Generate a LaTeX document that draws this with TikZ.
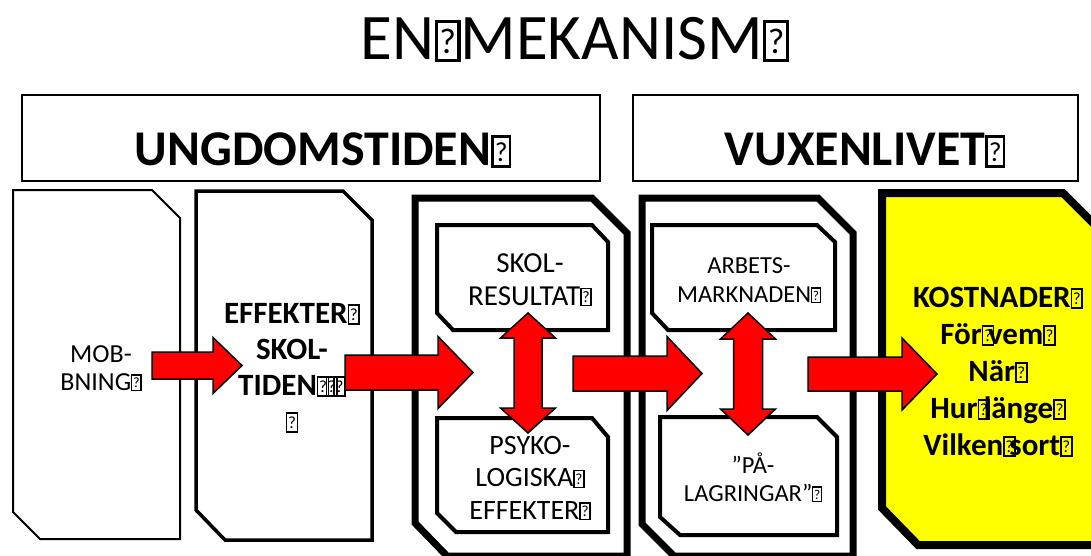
\documentclass[tikz,border=0pt]{standalone}
\usepackage{fontspec}
\setmainfont{Carlito}
\usepackage{graphicx}
\definecolor{costyellow}{RGB}{255,255,0}
\definecolor{arrowred}{RGB}{255,0,0}
\newcommand\qb{{\setlength\fboxsep{0pt}\setlength\fboxrule{0.05em}\fbox{\makebox[0.3em]{\rule{0pt}{0.55em}\raisebox{0.08em}{\scalebox{0.55}{\mdseries ?}}}}}}
\newcommand\ts{\rule{0pt}{1em}}
\newcommand\fsz[2]{\fontsize{#1}{#2}\selectfont}
\tikzset{
  hdrbox/.style={draw=black, line width=2pt, fill=white},
  thinbox/.style={draw=black, line width=2pt, fill=white, line join=miter},
  medbox/.style={draw=black, line width=3.5pt, fill=white, line join=miter},
  outerbox/.style={draw=black, line width=7pt, fill=white, line join=miter},
  innerbox/.style={draw=black, line width=4pt, fill=white, line join=miter},
  costbox/.style={draw=black, line width=8pt, fill=costyellow, line join=miter},
  blk/.style={draw=black, line width=1.5pt, fill=arrowred, line join=miter},
  lbl/.style={align=center, inner sep=0pt, outer sep=0pt, text=black},
}
\newcommand\harrow[6]{% x1, x2(tip), xh(head start), yc, half shaft, half head
  \filldraw[blk] (#1,{#4-#5}) -- (#3,{#4-#5}) -- (#3,{#4-#6}) -- (#2,#4) -- (#3,{#4+#6}) -- (#3,{#4+#5}) -- (#1,{#4+#5}) -- cycle;}
\newcommand\varrow[6]{% xc, y1(top tip), y2(bottom tip), half shaft, half head, head length
  \filldraw[blk] (#1,#2) -- ({#1+#5},{#2+#6}) -- ({#1+#4},{#2+#6}) -- ({#1+#4},{#3-#6}) -- ({#1+#5},{#3-#6}) -- (#1,#3)
    -- ({#1-#5},{#3-#6}) -- ({#1-#4},{#3-#6}) -- ({#1-#4},{#2+#6}) -- ({#1-#5},{#2+#6}) -- cycle;}
\begin{document}
\begin{tikzpicture}[x=1pt,y=-1pt]
\useasboundingbox (0,0) rectangle (1091,555);
\clip (0,0) rectangle (1091,555);
\fill[white] (0,0) rectangle (1091,555);

% title
\node[lbl, anchor=base, font=\fsz{65}{78}] (title) at (575,59) {EN\qb MEKANISM\qb};

% header boxes
\draw[hdrbox] (22,95) rectangle (600,181);
\draw[hdrbox] (633,95) rectangle (1078,181);
\node[lbl, anchor=base, font=\bfseries\fsz{50}{60}] (ungdom) at (323,165) {UNGDOMSTIDEN\qb};
\node[lbl, anchor=base, font=\bfseries\fsz{50}{60}] (vuxen) at (865,165) {VUXENLIVET\qb};

% column boxes
\draw[thinbox] (13,190) -- (152,190) -- (180,218) -- (180,539) -- (40,539) -- (13,512) -- cycle;
\draw[medbox] (196,191) -- (343,191) -- (372,220) -- (372,540) -- (225,540) -- (196,510) -- cycle;
\draw[outerbox] (415,198) -- (592,198) -- (627,233) -- (627,556) -- (447,556) -- (415,523) -- cycle;
\draw[outerbox] (642,198) -- (818,198) -- (853,233) -- (853,556) -- (674,556) -- (642,524) -- cycle;
\draw[innerbox] (437,225) -- (592,225) -- (608,242) -- (608,330) -- (453,330) -- (437,313) -- cycle;
\draw[innerbox] (437,418) -- (592,418) -- (608,437) -- (608,532) -- (456,532) -- (437,513) -- cycle;
\draw[innerbox] (652,225) -- (817,225) -- (835,242) -- (835,330) -- (668,330) -- (652,313) -- cycle;
\draw[innerbox] (660,417) -- (817,417) -- (837,437) -- (837,535) -- (680,535) -- (660,517) -- cycle;
\draw[costbox] (882,193) -- (1063,193) -- (1100,230) -- (1100,545) -- (918,545) -- (882,508) -- cycle;

% texts
\node[lbl, anchor=north, font=\fsz{26}{28}] (mob) at (101,336) {\ts MOB-\\BNING\qb};
\node[lbl, anchor=north, font=\bfseries\fsz{31}{36}] (eff) at (292,292) {\ts EFFEKTER\qb\\SKOL-\\TIDEN\qb\kern-0.12em\qb\kern-0.15em\qb\\\qb};
\node[lbl, anchor=north, font=\fsz{29}{33}] (skol) at (530,243) {\ts SKOL-\\RESULTAT\qb};
\node[lbl, anchor=north, font=\fsz{28}{32.5}] (psyk) at (530,426) {\ts PSYKO-\\LOGISKA\qb\\EFFEKTER\qb};
\node[lbl, anchor=north, font=\fsz{24.5}{29}] (arb) at (749,248.5) {\ts ARBETS-\\MARKNADEN\qb};
\node[lbl, anchor=north, font=\fsz{24.5}{28}] (pal) at (753,448.5) {\ts ”PÅ-\\LAGRINGAR”\qb};
\node[lbl, anchor=north, font=\bfseries\fsz{31}{37}] (kost) at (998,276) {\ts KOSTNADER\qb\\För\qb\kern-0.2em vem\qb\\När\qb\\Hur\qb\kern-0.2em länge\qb\\Vilken\qb\kern-0.2em sort\qb};

% block arrows
\harrow{152}{242}{213}{365.5}{13.5}{28}
\harrow{345}{473}{438}{372.5}{17.5}{36}
\harrow{573}{702}{667}{373.5}{17.5}{37}
\harrow{808}{937}{902}{374}{17}{36}
\varrow{528}{313}{433}{14}{27.5}{25}
\varrow{748}{313}{435}{14.5}{27.5}{26}
\end{tikzpicture}
\end{document}
